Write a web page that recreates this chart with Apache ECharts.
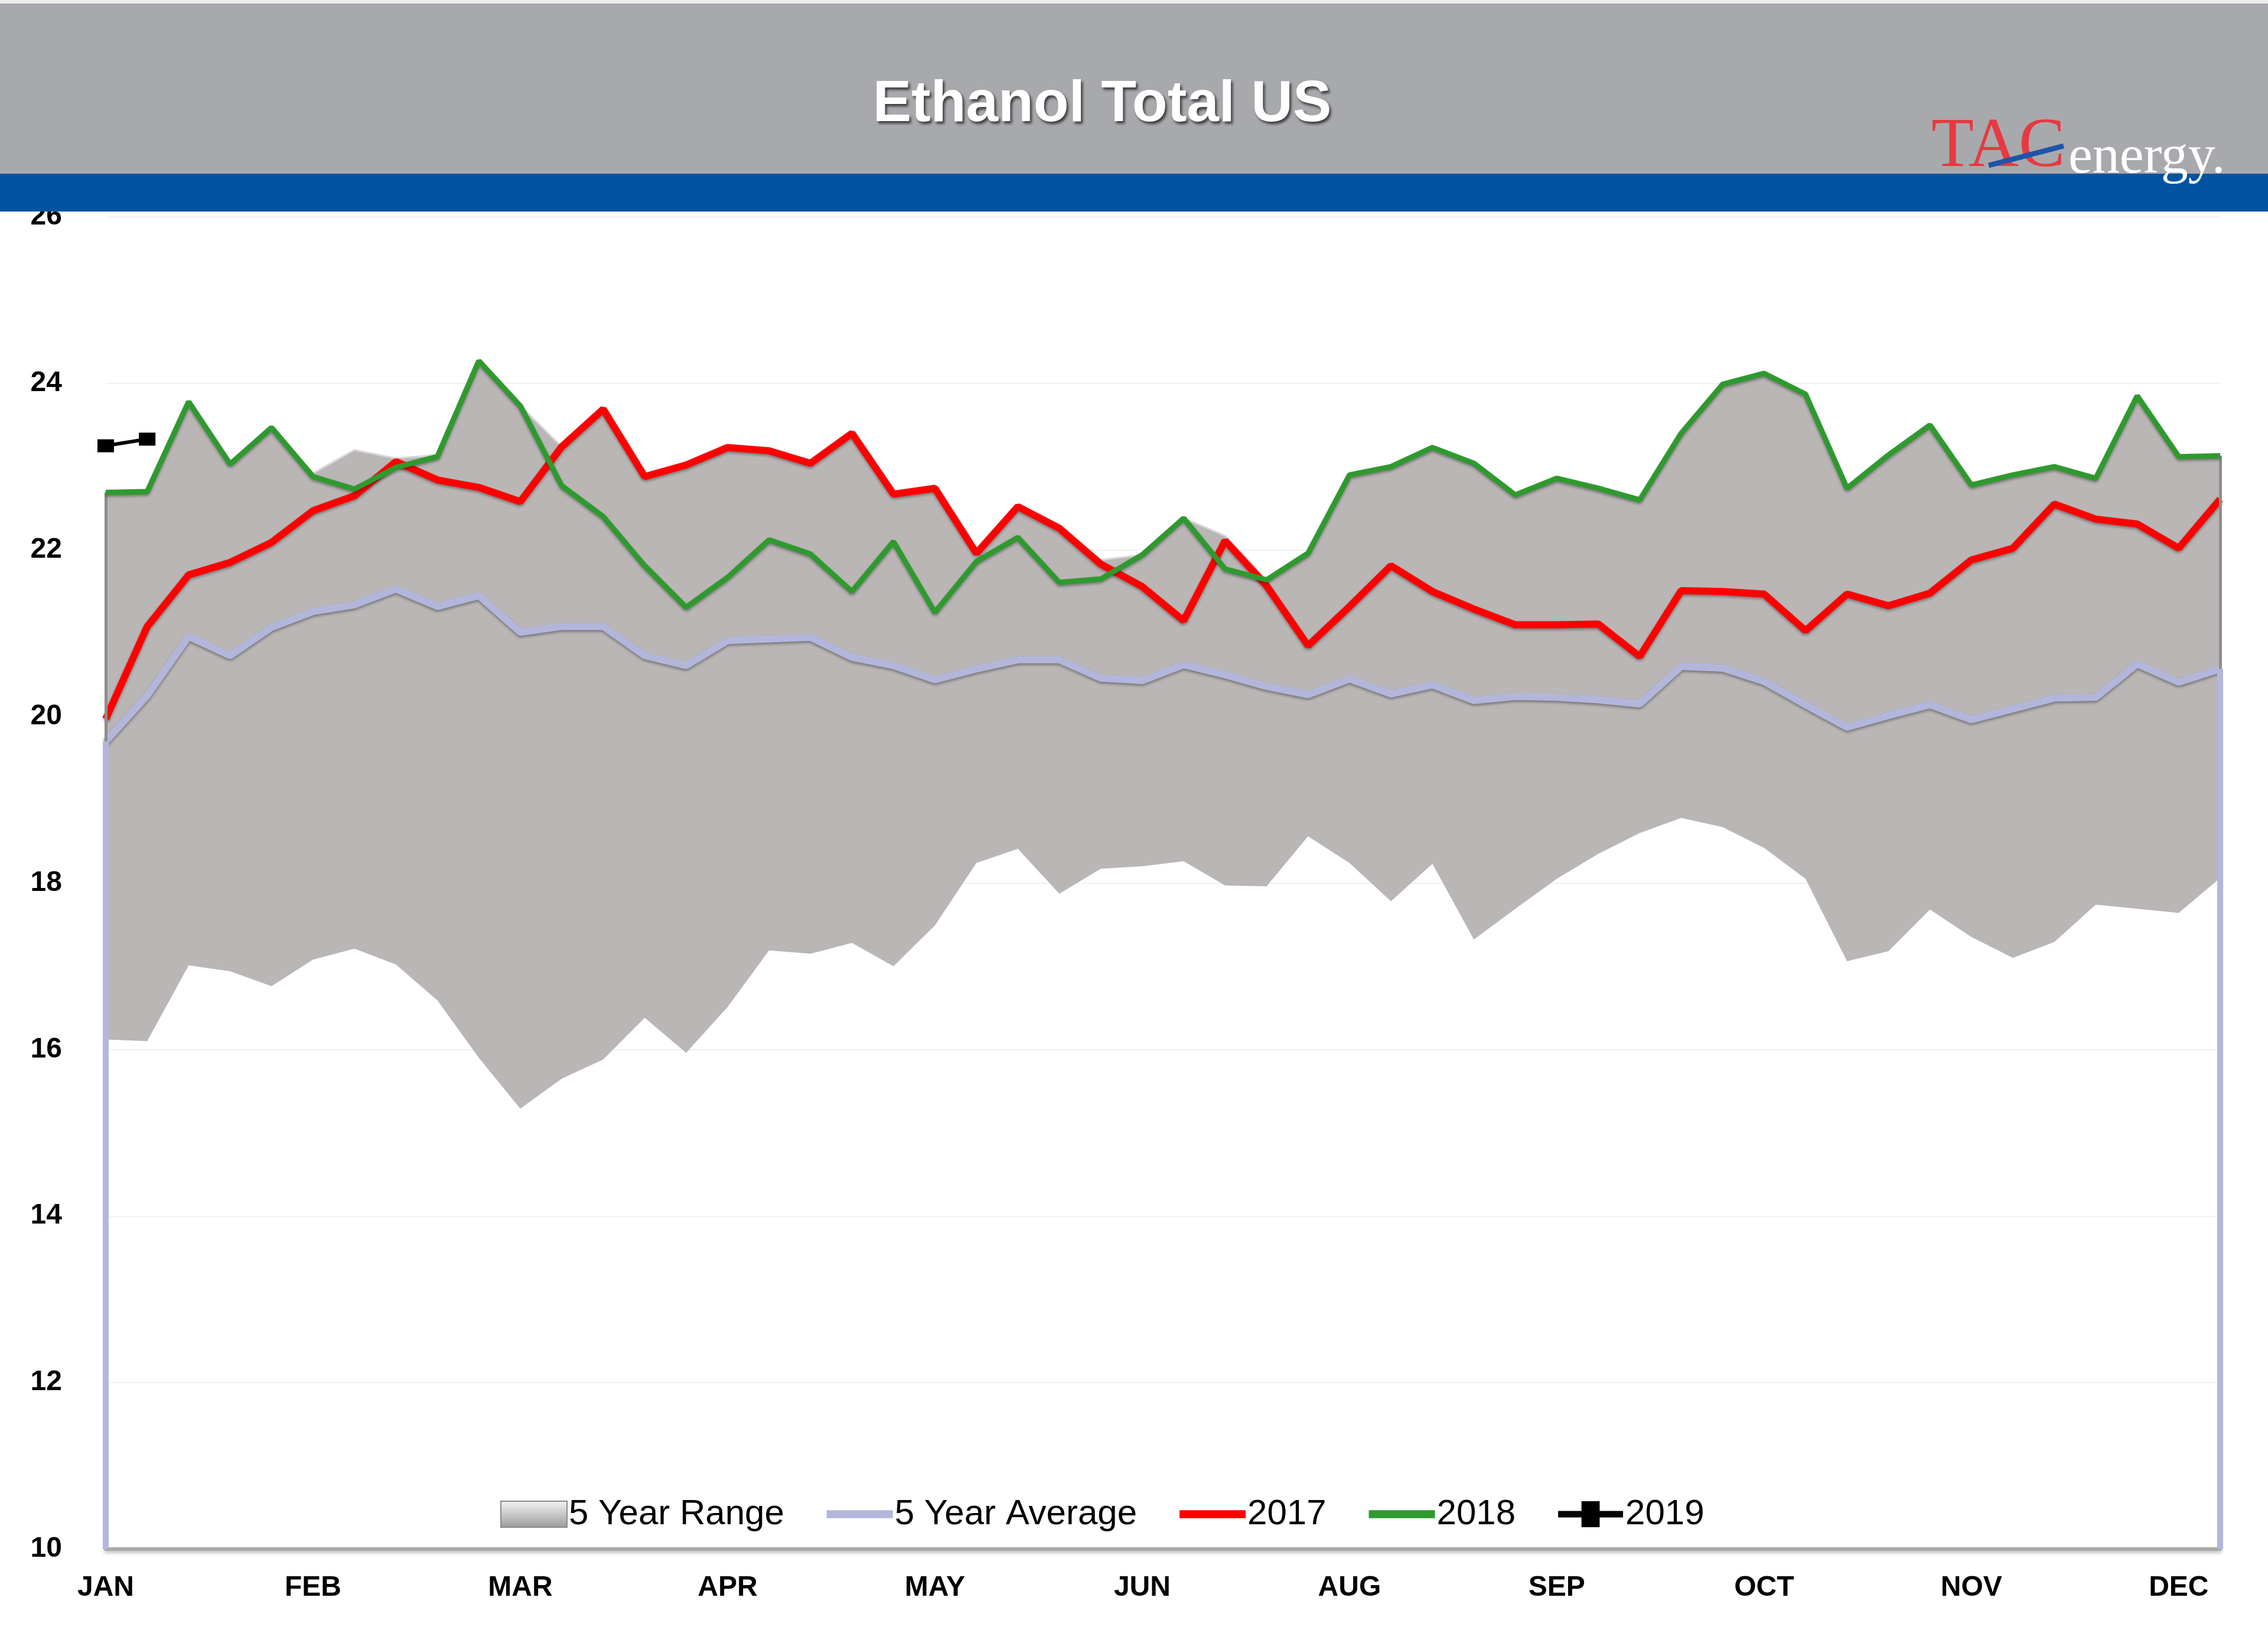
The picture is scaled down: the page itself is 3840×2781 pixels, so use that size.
<!DOCTYPE html>
<html>
<head>
<meta charset="utf-8">
<script src="https://cdn.jsdelivr.net/npm/echarts@6/dist/echarts.min.js"></script>
<style>
html,body{margin:0;padding:0;background:#fff;}
#chart{width:3840px;height:2781px;}
</style>
</head>
<body>
<div id="chart"></div>
<script>
// ---- DATA ----
const weeks = [1,2,3,4,5,6,7,8,9,10,11,12,13,14,15,16,17,18,19,20,21,22,23,24,25,26,
  27,28,29,30,31,32,33,34,35,36,37,38,39,40,41,42,43,44,45,46,47,48,49,50,51,52];
const monthTicks = ['JAN','FEB','MAR','APR','MAY','JUN','AUG','SEP','OCT','NOV','DEC'];
const yTicks = [10,12,14,16,18,20,22,24,26];

const rangeMin = [16.12,16.10,17.01,16.94,16.76,17.08,17.21,17.02,16.59,15.90,15.29,15.65,15.88,16.38,15.96,16.51,
  17.19,17.15,17.28,17.00,17.49,18.24,18.41,17.87,18.17,18.20,18.26,17.97,17.96,18.56,18.24,17.78,18.23,17.32,
  17.69,18.05,18.35,18.60,18.78,18.67,18.42,18.05,17.06,17.18,17.68,17.35,17.10,17.29,17.74,17.69,17.64,18.06];
const rangeMax = [22.69,22.70,23.78,23.03,23.47,22.92,23.20,23.10,23.14,24.27,23.73,23.24,23.69,22.88,23.02,23.23,
  23.19,23.04,23.40,22.67,22.74,21.96,22.52,22.26,21.88,21.94,22.38,22.17,21.64,21.96,22.90,23.00,23.23,23.04,
  22.66,22.86,22.74,22.60,23.40,23.99,24.12,23.87,22.74,23.14,23.50,22.78,22.90,23.00,22.86,23.85,23.12,23.13];
const avg5 = [19.70,20.25,20.96,20.73,21.07,21.26,21.34,21.53,21.32,21.45,21.01,21.08,21.08,20.73,20.61,20.91,
  20.93,20.95,20.71,20.61,20.44,20.57,20.68,20.68,20.46,20.43,20.62,20.50,20.36,20.26,20.45,20.27,20.38,20.19,
  20.24,20.23,20.20,20.15,20.60,20.58,20.42,20.14,19.87,20.01,20.14,19.96,20.09,20.22,20.23,20.63,20.41,20.57];
const y2017 = [19.97,21.08,21.70,21.85,22.09,22.47,22.65,23.06,22.84,22.75,22.58,23.24,23.69,22.88,23.02,23.23,
  23.19,23.04,23.40,22.67,22.74,21.96,22.52,22.26,21.83,21.56,21.15,22.11,21.57,20.85,21.32,21.81,21.50,21.29,
  21.10,21.10,21.11,20.72,21.51,21.50,21.47,21.03,21.47,21.33,21.48,21.88,22.02,22.55,22.37,22.31,22.02,22.61];
const y2018 = [22.69,22.70,23.78,23.03,23.47,22.88,22.73,22.99,23.12,24.27,23.73,22.77,22.40,21.81,21.31,21.67,
  22.12,21.95,21.50,22.10,21.25,21.86,22.15,21.61,21.65,21.94,22.38,21.77,21.64,21.96,22.90,23.00,23.23,23.04,
  22.66,22.86,22.74,22.60,23.40,23.99,24.12,23.87,22.74,23.14,23.50,22.78,22.90,23.00,22.86,23.85,23.12,23.13];
const y2019 = [23.25,23.33];

// ---- BUILD ----
const Y_MIN = yTicks[0], Y_MAX = yTicks[yTicks.length-1];
const rangeSpan = rangeMax.map((v,i)=>+(v - rangeMin[i]).toFixed(3));
const last = weeks.length - 1;

const C_GRAY = '#b9b6b5', C_AVG = '#b3b6db', C_RED = '#ff0000', C_GREEN = '#2e9a2e';
const lineShadow = {shadowColor:'rgba(0,0,0,0.35)', shadowBlur:4, shadowOffsetY:3};

const chart = echarts.init(document.getElementById('chart'), null, {renderer:'canvas'});
chart.setOption({
  animation:false,
  backgroundColor:'#ffffff',
  grid:{left:179, right:81, top:367, bottom:159, containLabel:false},
  xAxis:{
    type:'category', data:weeks, boundaryGap:false,
    axisLine:{show:true, lineStyle:{color:'#a8a8a8', width:6, shadowColor:'rgba(0,0,0,0.3)', shadowBlur:6, shadowOffsetY:3}},
    axisTick:{show:false},
    axisLabel:{interval:0, margin:42, color:'#000', fontSize:48, fontWeight:'bold', fontFamily:'Liberation Sans',
      formatter:(v,idx)=> (idx % 5 === 0 && monthTicks[idx/5]) ? monthTicks[idx/5] : ''},
    splitLine:{show:false}
  },
  yAxis:{
    type:'value', min:Y_MIN, max:Y_MAX, interval:2,
    axisLine:{show:false}, axisTick:{show:false},
    axisLabel:{margin:74, color:'#000', fontSize:48, fontWeight:'bold', fontFamily:'Liberation Sans',
      padding:[6,0,0,0]},
    splitLine:{show:true, lineStyle:{color:'#f1f1f1', width:2}}
  },
  legend:{
    left:842, top:2528, orient:'horizontal',
    itemWidth:112, itemHeight:44, itemGap:72,
    textStyle:{fontSize:60, color:'#000', fontFamily:'Liberation Sans', padding:[0,0,0,-2]},
    itemStyle:{borderWidth:0},
    data:[
      {name:'5 Year Range', icon:'rect', itemStyle:{color:{type:'linear',x:0,y:0,x2:0,y2:1,colorStops:[{offset:0,color:'#f4f4f4'},{offset:1,color:'#9c9c9c'}]}, borderColor:'#8a8a8a', borderWidth:2}},
      {name:'5 Year Average', icon:'path://M0,0 L100,0 L100,12 L0,12 Z', itemStyle:{color:C_AVG}},
      {name:'2017', icon:'path://M0,0 L100,0 L100,12 L0,12 Z', itemStyle:{color:C_RED}},
      {name:'2018', icon:'path://M0,0 L100,0 L100,12 L0,12 Z', itemStyle:{color:C_GREEN}},
      {name:'2019', icon:'path://M0,15 L36,15 L36,0 L64,0 L64,15 L100,15 L100,25 L64,25 L64,40 L36,40 L36,25 L0,25 Z', itemStyle:{color:'#000'}}
    ]
  },
  series:[
    {name:'rangeBase', type:'line', stack:'range', data:rangeMin, symbol:'none', silent:true,
     lineStyle:{width:0, opacity:0}, areaStyle:{opacity:0}, z:1},
    {name:'5 Year Range', type:'line', stack:'range', data:rangeSpan, symbol:'none', silent:true,
     itemStyle:{color:C_GRAY},
     lineStyle:{width:3, color:'#d9d7d6'}, areaStyle:{color:C_GRAY, opacity:1}, z:2,
     markLine:{symbol:'none', silent:true, label:{show:false},
       lineStyle:{color:'#8f8d8c', width:5, type:'solid'},
       data:[[{coord:[0, rangeMin[0]]},{coord:[0, rangeMax[0]]}],
             [{coord:[last, rangeMin[last]]},{coord:[last, rangeMax[last]]}]]}},
    {name:'5 Year Average', type:'line', data:avg5, symbol:'none',
     itemStyle:{color:C_AVG}, lineStyle:Object.assign({color:C_AVG, width:12}, lineShadow), z:3,
     markLine:{symbol:'none', silent:true, label:{show:false},
       lineStyle:{color:C_AVG, width:10, type:'solid'},
       data:[[{coord:[0, Y_MIN]},{coord:[0, avg5[0]]}],
             [{coord:[last, Y_MIN]},{coord:[last, avg5[last]]}]]}},
    {name:'2017', type:'line', data:y2017, symbol:'none',
     itemStyle:{color:C_RED}, lineStyle:Object.assign({color:C_RED, width:12}, lineShadow), z:4},
    {name:'2018', type:'line', data:y2018, symbol:'none',
     itemStyle:{color:C_GREEN}, lineStyle:Object.assign({color:C_GREEN, width:9}, lineShadow), z:5},
    {name:'2019', type:'line', data:y2019, symbol:'rect', symbolSize:[28,22],
     itemStyle:{color:'#000'}, lineStyle:{color:'#000', width:6}, z:6}
  ],
  graphic:[
    {type:'rect', z:100, shape:{x:0,y:0,width:3840,height:6}, style:{fill:'#ececec'}},
    {type:'rect', z:100, shape:{x:0,y:6,width:3840,height:288}, style:{fill:'#a8a9ad'}},
    {type:'rect', z:100, shape:{x:0,y:294,width:3840,height:64}, style:{fill:'#0153a2'}},
    {type:'text', z:101, style:{x:1866, y:178, text:'Ethanol Total US', fill:'#ffffff',
      font:'bold 98px "Liberation Sans", Arial, sans-serif', textAlign:'center', textVerticalAlign:'middle',
      textShadowColor:'rgba(0,0,0,0.65)', textShadowBlur:4, textShadowOffsetX:3, textShadowOffsetY:4}},
    {type:'text', z:101, style:{x:3270, y:250, text:'TAC', fill:'#e63a40',
      font:'118px "Liberation Serif", "Times New Roman", serif', textAlign:'left', textVerticalAlign:'middle'}},
    {type:'text', z:101, style:{x:3502, y:268, text:'energy.', fill:'#ffffff',
      font:'92px "Liberation Serif", "Times New Roman", serif', textAlign:'left', textVerticalAlign:'middle'}},
    {type:'line', z:102, shape:{x1:3367,y1:280,x2:3494,y2:247}, style:{stroke:'#1f55a6', lineWidth:9}}
  ]
});
</script>
</body>
</html>
